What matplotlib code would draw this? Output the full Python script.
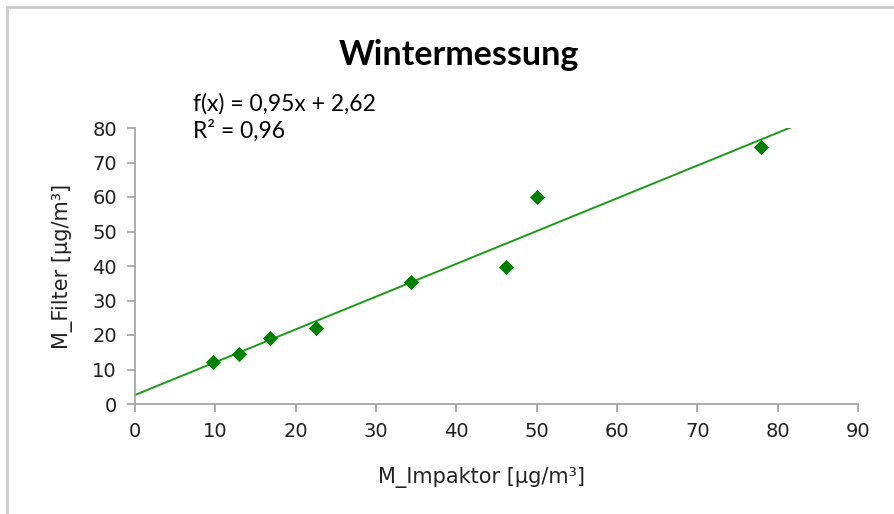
import numpy as np
import matplotlib
matplotlib.use('Agg')
import matplotlib.pyplot as plt
from matplotlib.lines import Line2D

# Winter measurement: impactor vs. filter mass concentration
m_impaktor = [9.7, 13.0, 16.8, 22.5, 34.3, 46.2, 50.0, 77.9]
m_filter = [12.2, 14.5, 19.2, 22.1, 35.3, 39.7, 60.0, 74.5]

slope = 0.95
intercept = 2.62
r2 = 0.96

green = '#008000'
grey = '#a6a6a6'

fig = plt.figure(figsize=(8.95, 5.14), dpi=100)
ax = fig.add_axes([135 / 895, 1 - 404 / 514, (858 - 135) / 895, (404 - 128) / 514])

xs = np.array([0, 90])
ax.plot(xs, slope * xs + intercept, color='#1a9a1a', lw=1.4, zorder=2)
ax.scatter(m_impaktor, m_filter, marker='D', s=60, color=green, zorder=3, linewidths=0)

ax.set_xlim(0, 90)
ax.set_ylim(0, 80)
ax.set_xticks(range(0, 91, 10))
ax.set_yticks(range(0, 81, 10))

for side in ['top', 'right']:
    ax.spines[side].set_visible(False)
for side in ['left', 'bottom']:
    ax.spines[side].set_color(grey)
    ax.spines[side].set_linewidth(1.3)
ax.tick_params(direction='out', length=6, width=1.3, color=grey, labelsize=14,
               labelcolor='#222222', pad=7)

ax.set_xlabel('M_Impaktor [µg/m³]', fontsize=15, color='#222222')
ax.set_ylabel('M_Filter [µg/m³]', fontsize=15, color='#222222', labelpad=14)
ax.xaxis.set_label_coords((482 - 135) / (858 - 135), -(478 - 404) / (404 - 128))
ax.xaxis.label.set_va('center')

fig.text(459 / 895, 1 - 55 / 514, 'Wintermessung', ha='center', va='center',
         fontsize=24.5, fontweight='bold', family='Lato')
fig.text(193 / 895, 1 - 104 / 514, f'f(x) = {slope:.2f}x + {intercept:.2f}'.replace('.', ','),
         ha='left', va='center', fontsize=16.5, family='Lato')
fig.text(193 / 895, 1 - 131 / 514, f'R² = {r2:.2f}'.replace('.', ','),
         ha='left', va='center', fontsize=16.5, family='Lato')

# frame lines along the top and left edge
fig.add_artist(Line2D([7 / 895, 1], [1 - 7 / 514, 1 - 7 / 514], transform=fig.transFigure,
                      color='#cccccc', lw=2))
fig.add_artist(Line2D([7 / 895, 7 / 895], [0, 1 - 7 / 514], transform=fig.transFigure,
                      color='#cccccc', lw=2))

fig.savefig('out.png', dpi=100)
